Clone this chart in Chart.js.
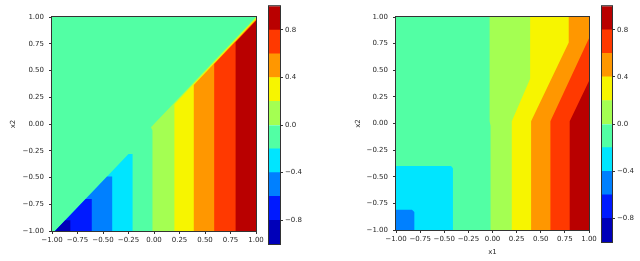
<!DOCTYPE html>
<html>
<head>
<meta charset="utf-8">
<script src="https://cdn.jsdelivr.net/npm/chart.js@4"></script>
<style>
	body { margin: 0; background: #ffffff; }
	#wrap { position: relative; width: 640px; height: 261px; overflow: hidden; }
	canvas { position: absolute; top: 0; }
</style>
</head>
<body>
<div id="wrap">
	<canvas id="left-plot" width="320" height="261" style="left:0px"></canvas>
	<canvas id="left-cbar" width="60" height="261" style="left:260px"></canvas>
	<canvas id="right-plot" width="320" height="261" style="left:320px"></canvas>
	<canvas id="right-cbar" width="47" height="261" style="left:593px"></canvas>
</div>
<script>
// contour levels (jet colormap, 10 bands from -1 to 1)
const levelBounds = [-1, -0.8, -0.6, -0.4, -0.2, 0, 0.2, 0.4, 0.6, 0.8, 1];
const levelColors = ['#0000b9', '#001aff', '#0080ff', '#00e5ff', '#52ffa4', '#a4ff52', '#f7f500', '#ff9700', '#ff3900', '#b90000'];
const axisTickValues = [-1, -0.75, -0.5, -0.25, 0, 0.25, 0.5, 0.75, 1];
const colorbarTickValues = [-0.8, -0.4, 0, 0.4, 0.8];

// filled regions, bottom layer first: level index + polygon in (x1, x2)
// each polygon starts at its left edge and ends at its right edge on the bottom
const leftRegionLevels = [4, 5, 6, 7, 8, 9, 3, 2, 1, 0];
const leftRegionShapes = [
	[[-1, -1], [-1, 1], [1, 1], [1, -1]],
	[[-0.015, -1], [-0.015, -0.06], [-0.03, -0.03], [1, 1], [1, -1]],
	[[0.2, -1], [0.2, 0.185], [1, 0.99], [1, -1]],
	[[0.39, -1], [0.39, 0.365], [1, 0.98], [1, -1]],
	[[0.59, -1], [0.59, 0.56], [1, 0.97], [1, -1]],
	[[0.8, -1], [0.8, 0.765], [1, 0.965], [1, -1]],
	[[-0.97, -1], [-0.25, -0.28], [-0.21, -0.28], [-0.21, -1]],
	[[-0.97, -1], [-0.46, -0.49], [-0.41, -0.49], [-0.41, -1]],
	[[-0.97, -1], [-0.67, -0.70], [-0.61, -0.70], [-0.61, -1]],
	[[-0.97, -1], [-0.87, -0.90], [-0.82, -0.90], [-0.82, -1]]
];

const rightRegionLevels = [4, 3, 2, 5, 6, 7, 8, 9];
const rightRegionShapes = [
	[[-1, -1], [-1, 1], [1, 1], [1, -1]],
	[[-1, -1], [-1, -0.40], [-0.43, -0.40], [-0.41, -0.42], [-0.41, -1]],
	[[-1, -1], [-1, -0.81], [-0.835, -0.81], [-0.81, -0.83], [-0.81, -1]],
	[[-0.02, -1], [-0.02, -0.02], [-0.03, 0.02], [-0.03, 1], [1, 1], [1, -1]],
	[[0.2, -1], [0.2, 0.02], [0.39, 0.42], [0.39, 1], [1, 1], [1, -1]],
	[[0.4, -1], [0.4, 0.02], [0.79, 0.76], [0.79, 1], [1, 1], [1, -1]],
	[[0.6, -1], [0.6, 0.02], [1, 0.8], [1, -1]],
	[[0.8, -1], [0.8, 0.02], [1, 0.4], [1, -1]]
];

const axisColor = '#333333';
const textColor = '#262626';
const tickFont = { family: 'DejaVu Sans', size: 7 };

function fmt(value, digits) {
	const s = Math.abs(value).toFixed(digits);
	return (value < -1e-9 ? '\u2212' : '') + s;
}

const framePlugin = {
	id: 'frame',
	afterDatasetsDraw(chart) {
		const { ctx, chartArea: a } = chart;
		ctx.save();
		ctx.strokeStyle = axisColor;
		ctx.lineWidth = 1;
		ctx.strokeRect(a.left - 0.5, a.top - 0.5, a.right - a.left + 1, a.bottom - a.top + 1);
		ctx.restore();
	}
};

function axisOptions(fitSize, horizontal, title) {
	return {
		type: 'linear',
		min: -1,
		max: 1,
		afterBuildTicks: (scale) => { scale.ticks = axisTickValues.map(v => ({ value: v })); },
		afterFit: (scale) => {
			if (horizontal) { scale.height = fitSize; } else { scale.width = fitSize; }
		},
		grid: { drawOnChartArea: false, drawTicks: true, tickLength: 3, color: axisColor },
		border: { display: true, color: axisColor, width: 1 },
		ticks: {
			autoSkip: false, maxRotation: 0, minRotation: 0,
			padding: horizontal ? 2 : 5,
			color: textColor, font: tickFont,
			callback: (v) => fmt(v, 2)
		},
		title: title
	};
}

function drawContour(canvasId, levels, shapes, layout) {
	const datasets = shapes.map((shape, i) => ({
		data: shape.map(p => ({ x: p[0], y: p[1] })),
		backgroundColor: levelColors[levels[i]],
		borderWidth: 0,
		pointRadius: 0,
		pointHitRadius: 0,
		tension: 0,
		fill: 'shape'
	})).reverse();

	return new Chart(document.getElementById(canvasId), {
		type: 'line',
		data: { datasets: datasets },
		options: {
			responsive: false,
			animation: false,
			events: [],
			layout: { padding: layout.padding },
			plugins: { legend: { display: false }, tooltip: { enabled: false } },
			scales: {
				x: axisOptions(layout.xHeight, true, layout.xTitle),
				y: axisOptions(layout.yWidth, false, layout.yTitle)
			}
		},
		plugins: [framePlugin]
	});
}

function drawColorbar(canvasId, padding, axisWidth) {
	const datasets = levelColors.map((color, i) => ({
		data: [[levelBounds[i], levelBounds[i + 1]]],
		backgroundColor: color,
		borderWidth: 0,
		barPercentage: 1,
		categoryPercentage: 1,
		grouped: false
	}));

	return new Chart(document.getElementById(canvasId), {
		type: 'bar',
		data: { labels: [''], datasets: datasets },
		options: {
			responsive: false,
			animation: false,
			events: [],
			layout: { padding: padding },
			plugins: { legend: { display: false }, tooltip: { enabled: false } },
			scales: {
				x: { display: false },
				y: {
					position: 'right',
					min: -1,
					max: 1,
					afterBuildTicks: (scale) => { scale.ticks = colorbarTickValues.map(v => ({ value: v })); },
					afterFit: (scale) => { scale.width = axisWidth; },
					grid: { drawOnChartArea: false, drawTicks: true, tickLength: 3, color: axisColor },
					border: { display: true, color: axisColor, width: 1 },
					ticks: { padding: 2, color: textColor, font: tickFont, callback: (v) => fmt(v, 1) }
				}
			}
		},
		plugins: [framePlugin]
	});
}

const titleFont = { family: 'DejaVu Sans', size: 7 };

drawContour('left-plot', leftRegionLevels, leftRegionShapes, {
	padding: { left: 0, top: 17, right: 64, bottom: 0 },
	xHeight: 30,
	yWidth: 52,
	xTitle: { display: false },
	yTitle: { display: true, text: 'x2', color: textColor, font: titleFont, padding: { top: 9, bottom: 0 } }
});

drawContour('right-plot', rightRegionLevels, rightRegionShapes, {
	padding: { left: 0, top: 17, right: 51, bottom: 0 },
	xHeight: 31,
	yWidth: 76,
	xTitle: { display: true, text: 'x1', color: textColor, font: titleFont, padding: { top: 0, bottom: 5 } },
	yTitle: { display: true, text: 'x2', color: textColor, font: titleFont, padding: { top: 34, bottom: 0 } }
});

drawColorbar('left-cbar', { left: 9, top: 5, right: 0, bottom: 17 }, 40);
drawColorbar('right-cbar', { left: 9, top: 5, right: 0, bottom: 19 }, 28);
</script>
</body>
</html>
